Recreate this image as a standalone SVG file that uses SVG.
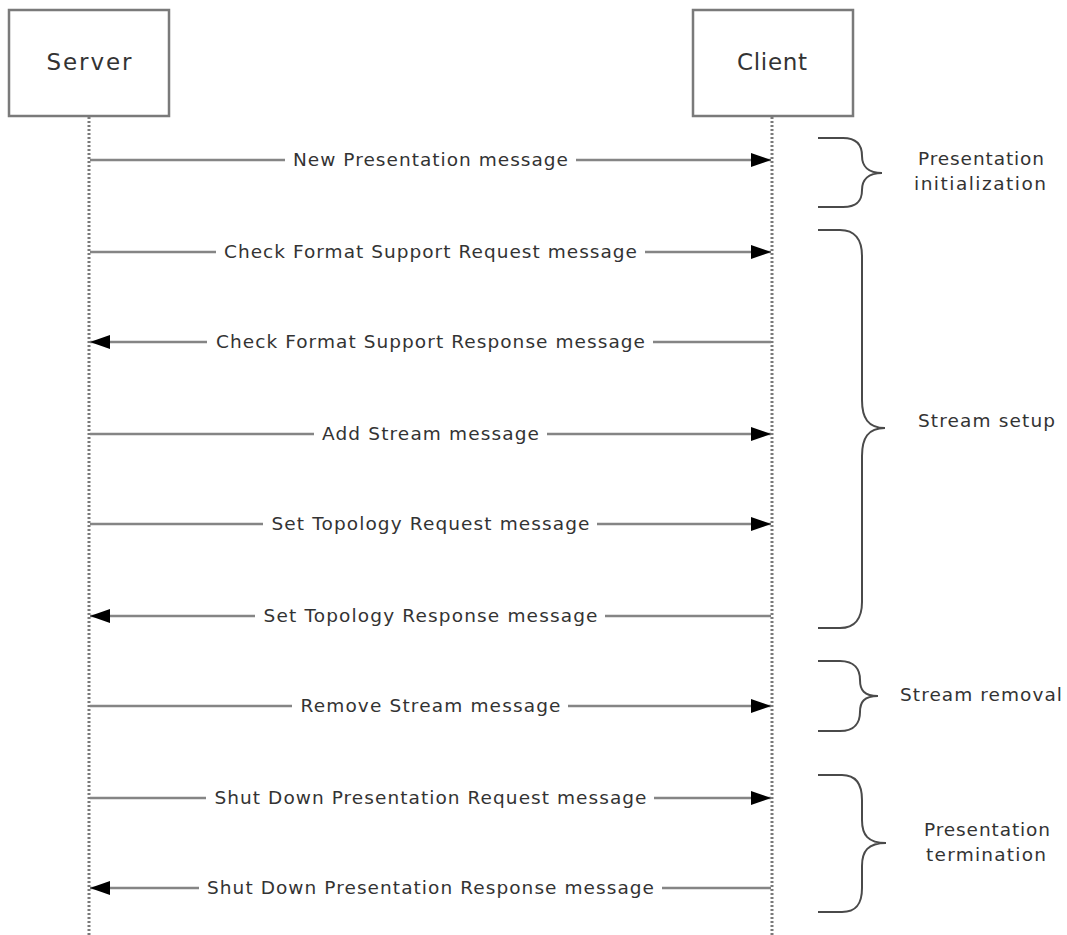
<svg xmlns="http://www.w3.org/2000/svg" width="1067" height="935" viewBox="0 0 1067 935">
<style>
.box{fill:#fff;stroke:#7a7a7a;stroke-width:2.5}
.life{stroke:#7a7a7a;stroke-width:3;stroke-dasharray:2,2;fill:none}
.msg{stroke:#858585;stroke-width:2.5;fill:none}
.gap{fill:#fff}
.t{font-family:"DejaVu Sans",Verdana,sans-serif;font-size:18.5px;fill:#333;text-anchor:middle}
.tb{font-family:"DejaVu Sans",Verdana,sans-serif;font-size:23px;fill:#333;text-anchor:middle}
.brace{stroke:#4a4a4a;stroke-width:2;fill:none}
</style>
<defs>
<marker id="ah" viewBox="0 0 20 14" refX="20" refY="7" markerWidth="20" markerHeight="14" markerUnits="userSpaceOnUse" orient="auto">
<path d="M0,0 L20,7 L0,14 Z" fill="#000"/>
</marker>
</defs>
<g id="server">
<rect class="box" x="9" y="10" width="160" height="106"/>
<text class="tb" x="89" y="70" textLength="85" lengthAdjust="spacing">Server</text>
</g>
<g id="client">
<rect class="box" x="693" y="10" width="160" height="106"/>
<text class="tb" x="772" y="70" textLength="70" lengthAdjust="spacing">Client</text>
</g>
<g id="lifelines">
<line class="life" x1="89" y1="117" x2="89" y2="935"/>
<line class="life" x1="772" y1="117" x2="772" y2="935"/>
</g>
<g id="connectors">
<line class="msg" x1="90" y1="160" x2="771" y2="160" marker-end="url(#ah)"/>
<rect class="gap" x="285" y="148" width="291" height="24"/>
<text class="t" x="430.5" y="166" textLength="275" lengthAdjust="spacing">New Presentation message</text>

<line class="msg" x1="90" y1="252" x2="771" y2="252" marker-end="url(#ah)"/>
<rect class="gap" x="216" y="240" width="429" height="24"/>
<text class="t" x="430.5" y="258" textLength="413" lengthAdjust="spacing">Check Format Support Request message</text>

<line class="msg" x1="771" y1="342" x2="90" y2="342" marker-end="url(#ah)"/>
<rect class="gap" x="207" y="330" width="446" height="24"/>
<text class="t" x="430.5" y="348" textLength="429" lengthAdjust="spacing">Check Format Support Response message</text>

<line class="msg" x1="90" y1="434" x2="771" y2="434" marker-end="url(#ah)"/>
<rect class="gap" x="314" y="422" width="233" height="24"/>
<text class="t" x="430.5" y="440" textLength="217" lengthAdjust="spacing">Add Stream message</text>

<line class="msg" x1="90" y1="524" x2="771" y2="524" marker-end="url(#ah)"/>
<rect class="gap" x="263" y="512" width="334" height="24"/>
<text class="t" x="430.5" y="530" textLength="318" lengthAdjust="spacing">Set Topology Request message</text>

<line class="msg" x1="771" y1="616" x2="90" y2="616" marker-end="url(#ah)"/>
<rect class="gap" x="255" y="604" width="350" height="24"/>
<text class="t" x="430.5" y="622" textLength="334" lengthAdjust="spacing">Set Topology Response message</text>

<line class="msg" x1="90" y1="706" x2="771" y2="706" marker-end="url(#ah)"/>
<rect class="gap" x="292" y="694" width="276" height="24"/>
<text class="t" x="430.5" y="712" textLength="260" lengthAdjust="spacing">Remove Stream message</text>

<line class="msg" x1="90" y1="798" x2="771" y2="798" marker-end="url(#ah)"/>
<rect class="gap" x="206" y="786" width="448" height="24"/>
<text class="t" x="430.5" y="804" textLength="432" lengthAdjust="spacing">Shut Down Presentation Request message</text>

<line class="msg" x1="771" y1="888" x2="90" y2="888" marker-end="url(#ah)"/>
<rect class="gap" x="199" y="876" width="463" height="24"/>
<text class="t" x="430.5" y="894" textLength="447" lengthAdjust="spacing">Shut Down Presentation Response message</text>
</g>
<g id="brace-init">
<path class="brace" d="M818,138 H843 C858,138 862,146 862,156 C862,166 868,173 882,173 C868,173 862,180 862,190 C862,200 858,207 843,207 H818"/>
<text class="t" x="981" y="165" textLength="126" lengthAdjust="spacing">Presentation</text>
<text class="t" x="980" y="190" textLength="132" lengthAdjust="spacing">initialization</text>
</g>
<g id="brace-setup">
<path class="brace" d="M818,230 H840 C855,230 862,240 862,256 V400 C862,418 868,428 885,428 C868,428 862,438 862,456 V602 C862,618 855,628 840,628 H818"/>
<text class="t" x="986.5" y="427" textLength="137" lengthAdjust="spacing">Stream setup</text>
</g>
<g id="brace-removal">
<path class="brace" d="M818,661 H840 C855,661 860,670 860,680 C860,690 864,696 878,696 C864,696 860,702 860,712 C860,722 855,731 840,731 H818"/>
<text class="t" x="981" y="701" textLength="162" lengthAdjust="spacing">Stream removal</text>
</g>
<g id="brace-term">
<path class="brace" d="M818,775 H842 C857,775 862,785 862,800 V820 C862,835 868,843 886,843 C868,843 862,851 862,866 V888 C862,903 857,912 842,912 H818"/>
<text class="t" x="987" y="836" textLength="126" lengthAdjust="spacing">Presentation</text>
<text class="t" x="986" y="861" textLength="120" lengthAdjust="spacing">termination</text>
</g>
</svg>
